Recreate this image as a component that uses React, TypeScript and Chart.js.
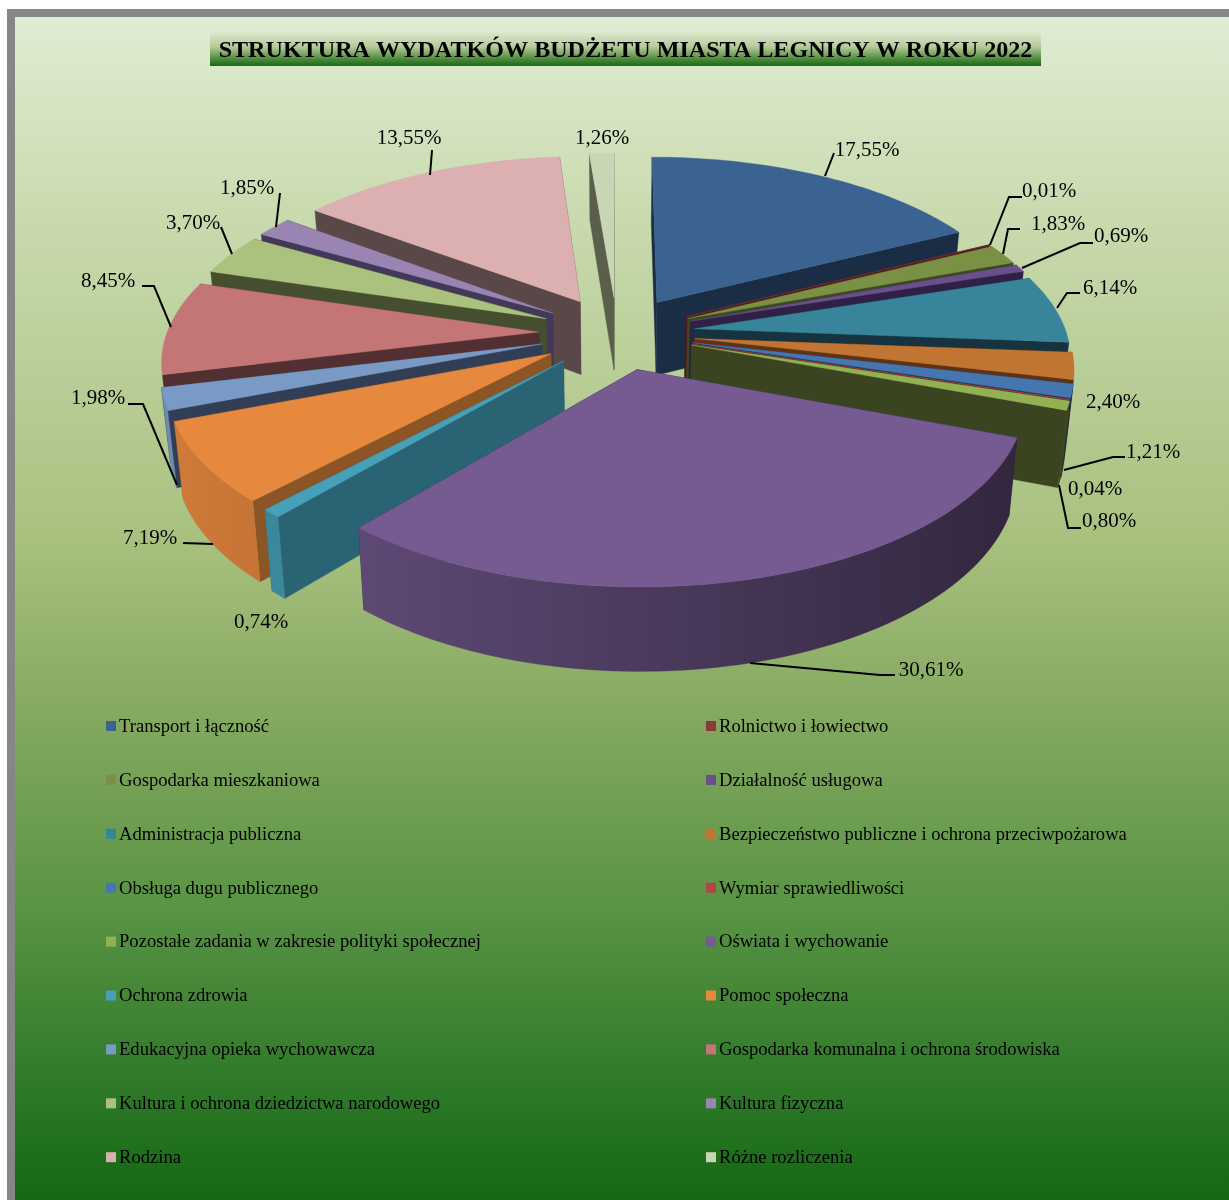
import React, { useEffect, useRef } from "react";
import { Chart, registerables } from "chart.js";

Chart.register(...registerables);

const TITLE = "STRUKTURA WYDATKÓW BUDŻETU MIASTA LEGNICY W ROKU 2022";

const categories = [
  "Transport i łączność",
  "Rolnictwo i łowiectwo",
  "Gospodarka mieszkaniowa",
  "Działalność usługowa",
  "Administracja publiczna",
  "Bezpieczeństwo publiczne i ochrona przeciwpożarowa",
  "Obsługa dugu publicznego",
  "Wymiar sprawiedliwości",
  "Pozostałe zadania w zakresie polityki społecznej",
  "Oświata i wychowanie",
  "Ochrona zdrowia",
  "Pomoc społeczna",
  "Edukacyjna opieka wychowawcza",
  "Gospodarka komunalna i ochrona środowiska",
  "Kultura i ochrona dziedzictwa narodowego",
  "Kultura fizyczna",
  "Rodzina",
  "Różne rozliczenia",
];

const shares = [17.55, 0.01, 1.83, 0.69, 6.14, 2.4, 1.21, 0.04, 0.8, 30.61, 0.74, 7.19, 1.98, 8.45, 3.7, 1.85, 13.55, 1.26];

const topColors = [
  "#3b6391", "#8a3a3a", "#7a9145", "#6a4f8a", "#38859b", "#c17533", "#4576b0", "#b0464a", "#93b153",
  "#755b92", "#46a0b8", "#e6883e", "#7a9ac6", "#c47676", "#aac27e", "#9a85b2", "#dcb0b0", "#c8d6b5",
];

const wallColors = [
  "#1a2d44", "#4c1a1d", "#3b4a1e", "#2f2145", "#16333f", "#5d3215", "#203556", "#4d1f20", "#3a4420",
  "#2e2340", "#2a6474", "#8c5526", "#313e55", "#522f30", "#464e30", "#42385a", "#5a4848", "#5a5f4c",
];

// Label layout: text centre and leader line, in slice order.
const labelLayout: { x: number; y: number; line?: number[][] }[] = [
  { x: 867, y: 150, line: [[834, 153], [825, 176]] },
  { x: 1049, y: 191, line: [[1022, 197], [1009, 197], [990, 245]] },
  { x: 1058, y: 224, line: [[1020, 229], [1008, 229], [1003, 254]] },
  { x: 1121, y: 236, line: [[1093, 243], [1080, 243], [1022, 268]] },
  { x: 1110, y: 288, line: [[1080, 293], [1067, 293], [1057, 308]] },
  { x: 1113, y: 402 },
  { x: 1153, y: 452, line: [[1125, 457], [1113, 457], [1064, 470]] },
  { x: 1095, y: 489 },
  { x: 1109, y: 521, line: [[1081, 528], [1068, 528], [1059, 485]] },
  { x: 931, y: 670, line: [[895, 675], [880, 675], [750, 663]] },
  { x: 261, y: 622 },
  { x: 150, y: 538, line: [[183, 543], [213, 544]] },
  { x: 98, y: 398, line: [[128, 404], [143, 404], [177, 485]] },
  { x: 108, y: 281, line: [[142, 286], [154, 286], [171, 327]] },
  { x: 193, y: 223, line: [[221, 227], [232, 254]] },
  { x: 247, y: 188, line: [[280, 193], [276, 227]] },
  { x: 409, y: 138, line: [[432, 150], [430, 175]] },
  { x: 602, y: 138 },
];

const SERIF = "'Liberation Serif', 'Times New Roman', serif";

// Projection of the exploded, extruded pie.
const CX = 617;
const CY = 333;
const RX = 372;
const RY = 174.5;
const PERSP = 0.144;
const EXPLODE = 0.21;
const DEPTH = 74;
const BOTTOM_SCALE = 0.98;

type P = [number, number];
const topPt = (u: number, v: number): P => {
  const w = 1 / (1 - PERSP * v);
  return [CX + RX * u * w, CY + RY * v * w];
};
const botPt = (u: number, v: number): P => {
  const w = 1 / (1 - PERSP * v);
  return [CX + RX * u * w * BOTTOM_SCALE, CY + RY * v * w * BOTTOM_SCALE + DEPTH * w];
};

const shade = (hex: string, f: number) => {
  const n = parseInt(hex.slice(1), 16);
  const c = [(n >> 16) & 255, (n >> 8) & 255, n & 255].map((x) => Math.round(x * f));
  return `rgb(${c[0]},${c[1]},${c[2]})`;
};

const fillPoly = (ctx: CanvasRenderingContext2D, pts: P[], style: any) => {
  ctx.beginPath();
  pts.forEach((p, i) => (i ? ctx.lineTo(p[0], p[1]) : ctx.moveTo(p[0], p[1])));
  ctx.closePath();
  ctx.fillStyle = style;
  ctx.fill();
  ctx.strokeStyle = style;
  ctx.lineWidth = 0.4;
  ctx.stroke();
};

const frame = {
  id: "frame",
  beforeDraw(chart: any) {
    const { ctx } = chart;
    ctx.save();
    ctx.fillStyle = "#ffffff";
    ctx.fillRect(0, 0, 1229, 1200);
    ctx.fillStyle = "#868686";
    ctx.fillRect(7, 9, 1222, 1191);
    const g = ctx.createLinearGradient(0, 17, 0, 1200);
    g.addColorStop(0, "#e0ecd4");
    g.addColorStop(0.17, "#c9daae");
    g.addColorStop(0.44, "#a8c17f");
    g.addColorStop(0.58, "#87aa62");
    g.addColorStop(0.75, "#5a9445");
    g.addColorStop(0.9, "#2f7a29");
    g.addColorStop(1, "#146814");
    ctx.fillStyle = g;
    ctx.fillRect(15, 17, 1214, 1183);
    const t = ctx.createLinearGradient(0, 31, 0, 66);
    t.addColorStop(0, "#e0ead2");
    t.addColorStop(0.45, "#b5cb9a");
    t.addColorStop(0.8, "#4d8a3c");
    t.addColorStop(1, "#146a14");
    ctx.fillStyle = t;
    ctx.fillRect(210, 31, 831, 35);
    ctx.restore();
  },
};

const pie3d = {
  id: "pie3d",
  beforeDatasetsDraw(chart: any) {
    const { ctx } = chart;
    const arcs = chart.getDatasetMeta(0).data as any[];
    const order = arcs
      .map((arc, i) => {
        const mid = (arc.startAngle + arc.endAngle) / 2 + Math.PI / 2;
        return { arc, i, mid, depth: -Math.cos(mid) };
      })
      .sort((a, b) => a.depth - b.depth);

    ctx.save();
    for (const { arc, i, mid } of order) {
      const a0 = arc.startAngle + Math.PI / 2;
      const a1 = arc.endAngle + Math.PI / 2;
      const ou = EXPLODE * Math.sin(mid);
      const ov = -EXPLODE * Math.cos(mid);
      const steps = Math.max(2, Math.ceil(((a1 - a0) / (Math.PI * 2)) * 240));
      const rim: [number, number][] = [];
      const front: [number, number][] = [];
      for (let s = 0; s <= steps; s++) {
        const t = a0 + ((a1 - a0) * s) / steps;
        const pt: [number, number] = [ou + Math.sin(t), ov - Math.cos(t)];
        rim.push(pt);
        if (Math.cos(t) < -0.25) front.push(pt);
      }
      const top = arc.options.backgroundColor as string;
      const wall = wallColors[i];

      // radial walls, far one first
      const first: [number, number] = rim[0];
      const last: [number, number] = rim[rim.length - 1];
      const walls = first[1] < last[1] ? [first, last] : [last, first];
      for (const e of walls) {
        fillPoly(ctx, [topPt(ou, ov), topPt(e[0], e[1]), botPt(e[0], e[1]), botPt(ou, ov)], wall);
      }

      // outer wall where it faces the viewer, lit from the left
      if (front.length > 1) {
        const grad = ctx.createLinearGradient(180, 0, 1075, 0);
        grad.addColorStop(0, shade(top, 0.9));
        grad.addColorStop(1, shade(top, 0.4));
        fillPoly(
          ctx,
          [...front.map(([u, v]) => topPt(u, v)), ...front.slice().reverse().map(([u, v]) => botPt(u, v))],
          grad
        );
      }

      // top surface
      fillPoly(ctx, [topPt(ou, ov), ...rim.map(([u, v]) => topPt(u, v))], top);
    }
    ctx.restore();
    return false;
  },
};

const annotations = {
  id: "annotations",
  afterDraw(chart: any) {
    const { ctx } = chart;
    ctx.save();
    ctx.fillStyle = "#000";
    ctx.strokeStyle = "#000";
    ctx.lineWidth = 2;
    ctx.textAlign = "center";
    ctx.textBaseline = "middle";
    ctx.font = `21px ${SERIF}`;
    const values = chart.data.datasets[0].data as number[];
    labelLayout.forEach((l, i) => {
      ctx.fillText(`${values[i].toFixed(2).replace(".", ",")}%`, l.x, l.y);
      if (l.line) {
        ctx.beginPath();
        l.line.forEach((p, j) => (j ? ctx.lineTo(p[0], p[1]) : ctx.moveTo(p[0], p[1])));
        ctx.stroke();
      }
    });

    // two-column legend
    const colors = chart.data.datasets[0].backgroundColor as string[];
    ctx.textAlign = "left";
    ctx.font = `18.6px ${SERIF}`;
    (chart.data.labels as string[]).forEach((name, i) => {
      const col = i % 2;
      const row = Math.floor(i / 2);
      const y = 726 + row * 53.9;
      const x = col ? 706 : 106;
      ctx.fillStyle = colors[i];
      ctx.fillRect(x, y - 5, 10, 10);
      ctx.fillStyle = "#000";
      ctx.fillText(name, x + 13, y + 1);
    });
    ctx.restore();
  },
};

export default function App() {
  const ref = useRef<HTMLCanvasElement | null>(null);
  useEffect(() => {
    if (!ref.current) return;
    const chart = new Chart(ref.current, {
      type: "pie",
      data: {
        labels: categories,
        datasets: [{ data: shares, backgroundColor: topColors, borderWidth: 0 }],
      },
      options: {
        responsive: false,
        maintainAspectRatio: false,
        animation: false,
        layout: { padding: { left: 22 } },
        plugins: {
          legend: { display: false },
          tooltip: { enabled: false },
          title: {
            display: true,
            text: TITLE,
            color: "#000",
            font: { family: SERIF, size: 24.1, weight: "bold" },
            padding: { top: 36, bottom: 0 },
          },
        },
      },
      plugins: [frame, pie3d, annotations],
    } as any);
    return () => chart.destroy();
  }, []);
  return (
    <div style={{ position: "absolute", left: 0, top: 0, width: 1229, height: 1200, overflow: "hidden" }}>
      <canvas ref={ref} width={1229} height={1200} style={{ display: "block" }} />
    </div>
  );
}
